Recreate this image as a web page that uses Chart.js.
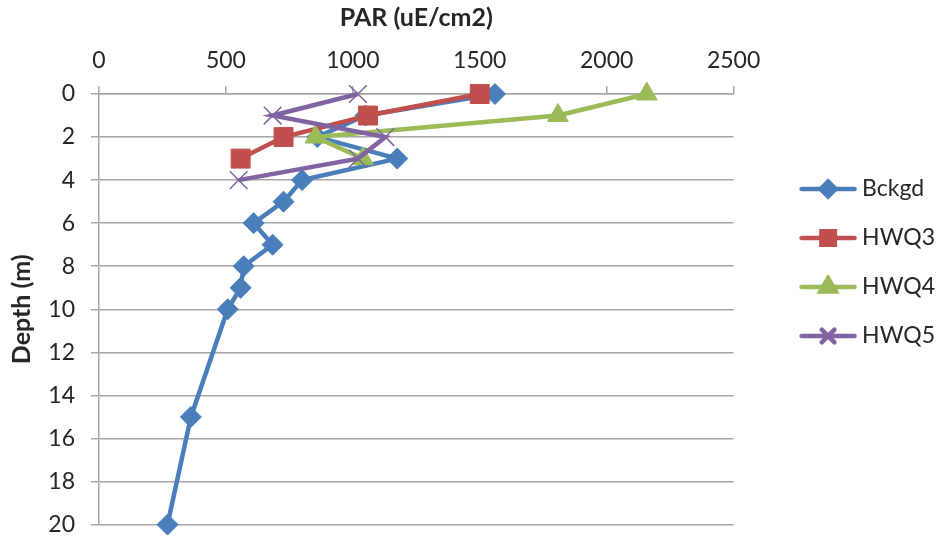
<!DOCTYPE html>
<html>
<head>
<meta charset="utf-8">
<script src="https://cdn.jsdelivr.net/npm/chart.js@4"></script>
<style>
  html, body { margin: 0; padding: 0; background: #fff; }
  #box { width: 942px; height: 539px; }
</style>
</head>
<body>
<div id="box"><canvas id="grafico"></canvas></div>
<script>
// profili di luce (PAR) per profondita'
var nomiSerie = ["Bckgd", "HWQ3", "HWQ4", "HWQ5"];

var profBckgd = [0, 1, 2, 3, 4, 5, 6, 7, 8, 9, 10, 15, 20];
var parBckgd  = [1560, 1050, 860, 1175, 800, 727, 609, 684, 570, 558, 507, 362, 270];

var profHWQ3 = [0, 1, 2, 3];
var parHWQ3  = [1500, 1060, 727, 558];

var profHWQ4 = [0, 1, 2, 3];
var parHWQ4  = [2158, 1808, 853, 1040];

var profHWQ5 = [0, 1, 2, 3, 4];
var parHWQ5  = [1020, 684, 1128, 1020, 550];

var tickPar = [0, 500, 1000, 1500, 2000, 2500];
var tickProf = [0, 2, 4, 6, 8, 10, 12, 14, 16, 18, 20];

var colori = ["#4a7ebb", "#c0504d", "#9bbb59", "#8064a2"];
var stili = ["rectRot", "rect", "triangle", "crossRot"];
var raggi = [10.5, 13.4, 12, 12.5];
var raggiLegenda = [7.5, 9.5, 9, 9];

var FONT = "Lato, 'Open Sans', sans-serif";
var GRIGIO = "#a6a6a6";
var TESTO = "#262626";

function punti(par, prof){
    var out = [];
    for (var i = 0; i < par.length; i++){
        out.push({x: par[i], y: prof[i]});
    }
    return out;
}

// immagine per la legenda: linea con il marker al centro
function iconaLegenda(i){
    var c = document.createElement("canvas");
    c.width = 104;
    c.height = 24;
    var ctx = c.getContext("2d");
    ctx.strokeStyle = colori[i];
    ctx.lineWidth = 4.5;
    ctx.lineCap = "round";
    ctx.beginPath();
    ctx.moveTo(48.5, 12);
    ctx.lineTo(101.5, 12);
    ctx.stroke();
    ctx.fillStyle = colori[i];
    ctx.strokeStyle = colori[i];
    Chart.helpers.drawPoint(ctx, {
        pointStyle: stili[i],
        radius: raggiLegenda[i],
        rotation: 0,
        borderWidth: i === 3 ? 1.5 : 1
    }, 75, 12);
    return c;
}

var serie = [punti(parBckgd, profBckgd), punti(parHWQ3, profHWQ3), punti(parHWQ4, profHWQ4), punti(parHWQ5, profHWQ5)];

var datasets = [];
for (var i = 0; i < nomiSerie.length; i++){
    datasets.push({
        label: nomiSerie[i],
        data: serie[i],
        borderColor: colori[i],
        backgroundColor: colori[i],
        borderWidth: 4.5,
        tension: 0,
        clip: false,
        pointStyle: stili[i],
        pointRadius: raggi[i],
        pointHoverRadius: raggi[i],
        pointBackgroundColor: colori[i],
        pointBorderColor: colori[i],
        pointBorderWidth: i === 3 ? 1.5 : 1,
        order: nomiSerie.length - i
    });
}

var context = document.getElementById("grafico").getContext("2d");

var chart = new Chart(context, {
    type: 'line',
    data: { datasets: datasets },
    options: {
        responsive: true,
        maintainAspectRatio: false,
        animation: false,
        layout: { padding: { left: 0, top: 0, right: -3, bottom: 14 } },
        plugins: {
            tooltip: { enabled: false },
            legend: {
                position: 'right',
                labels: {
                    usePointStyle: true,
                    pointStyleWidth: 91,
                    padding: 26,
                    color: TESTO,
                    font: { family: FONT, size: 23 },
                    sort: function(a, b){ return a.datasetIndex - b.datasetIndex; },
                    generateLabels: function(ch){
                        return ch.data.datasets.map(function(ds, k){
                            return {
                                text: ds.label,
                                pointStyle: iconaLegenda(k),
                                fillStyle: colori[k],
                                strokeStyle: colori[k],
                                lineWidth: 0,
                                hidden: false,
                                datasetIndex: k,
                                fontColor: TESTO
                            };
                        });
                    }
                }
            }
        },
        scales: {
            x: {
                type: 'linear',
                position: 'top',
                min: 0,
                max: 2500,
                afterFit: function(scale){
                    scale.height = 94;
                    scale.paddingLeft = 0;
                    scale.paddingRight = 0;
                },
                afterBuildTicks: function(scale){
                    scale.ticks = tickPar.map(function(v){ return {value: v}; });
                },
                title: {
                    display: true,
                    text: "PAR (uE/cm2)",
                    color: TESTO,
                    font: { family: FONT, size: 25, weight: "bold" },
                    padding: { top: 3, bottom: 0 }
                },
                ticks: {
                    color: TESTO,
                    font: { family: FONT, size: 23 },
                    padding: 12,
                    maxRotation: 0,
                    callback: function(v){ return String(v); }
                },
                grid: {
                    drawOnChartArea: false,
                    drawTicks: true,
                    tickLength: 8,
                    color: GRIGIO,
                    lineWidth: 1.5
                },
                border: { display: true, color: GRIGIO, width: 1.5 }
            },
            y: {
                type: 'linear',
                reverse: true,
                min: 0,
                max: 20,
                afterFit: function(scale){
                    scale.width = 99;
                    scale.paddingTop = 0;
                    scale.paddingBottom = 0;
                },
                afterBuildTicks: function(scale){
                    scale.ticks = tickProf.map(function(v){ return {value: v}; });
                },
                title: {
                    display: true,
                    text: "Depth (m)",
                    color: TESTO,
                    font: { family: FONT, size: 25, weight: "bold" },
                    padding: { top: 7, bottom: 0 }
                },
                ticks: {
                    color: TESTO,
                    font: { family: FONT, size: 23 },
                    padding: 16,
                    callback: function(v){ return String(v); }
                },
                grid: {
                    drawTicks: true,
                    tickLength: 8,
                    color: GRIGIO,
                    lineWidth: 1.5
                },
                border: { display: true, color: GRIGIO, width: 1.5 }
            }
        }
    }
});
</script>
</body>
</html>
